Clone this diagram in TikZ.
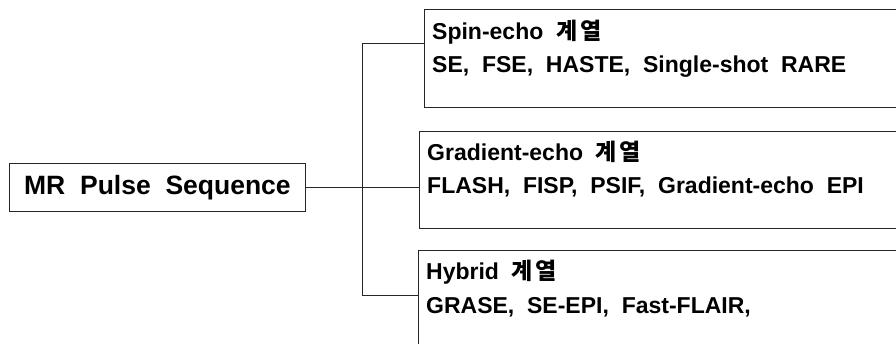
\documentclass[tikz,border=0pt]{standalone}
\usepackage{fontspec}
\setmainfont{Liberation Sans}
\newfontfamily\kr{Noto Sans CJK KR}
\newcommand{\gyeyeol}{{\kr 계\hspace{0.12em}열}}
\begin{document}
\begin{tikzpicture}[x=1pt,y=-1pt,
  line/.style={draw=black!85, line width=0.9pt},
  box/.style={line, rectangle, anchor=north west, minimum width=520pt, inner sep=0pt},
  txt/.style={anchor=west, inner sep=0pt, font=\fontsize{23}{26}\selectfont\bfseries}]
\useasboundingbox (0,0) rectangle (896,344);
\clip (0,0) rectangle (896,344);
\node[line, rectangle, anchor=north west, minimum width=296pt, minimum height=48pt, inner sep=0pt,
      font=\fontsize{26.5}{30}\selectfont\bfseries] (main) at (9,163) {MR\ \ Pulse\ \ Sequence};
\node[box, minimum height=98pt] (b1) at (424,9) {};
\node[box, minimum height=97pt] (b2) at (419,131) {};
\node[box, minimum height=120pt] (b3) at (418,250) {};
\node[txt] (t1a) at (432,32) {Spin-echo\ \ \gyeyeol};
\node[txt] (t1b) at (432,67) {SE,\ \ FSE,\ \ HASTE,\ \ Single-shot\ \ RARE};
\node[txt] (t2a) at (427,152) {Gradient-echo\ \ \gyeyeol};
\node[txt] (t2b) at (427,187) {FLASH,\ \ FISP,\ \ PSIF,\ \ Gradient-echo\ \ EPI};
\node[txt] (t3a) at (426,272) {Hybrid\ \ \gyeyeol};
\node[txt] (t3b) at (426,307) {GRASE,\ \ SE-EPI,\ \ Fast-FLAIR,};
\coordinate (j1) at (362,43);
\coordinate (j3) at (362,295);
\draw[line] (main.east) -- (b2.west |- main.east);
\draw[line] (b1.west |- j1) -- (j1) -- (j3) -- (b3.west |- j3);
\end{tikzpicture}
\end{document}
